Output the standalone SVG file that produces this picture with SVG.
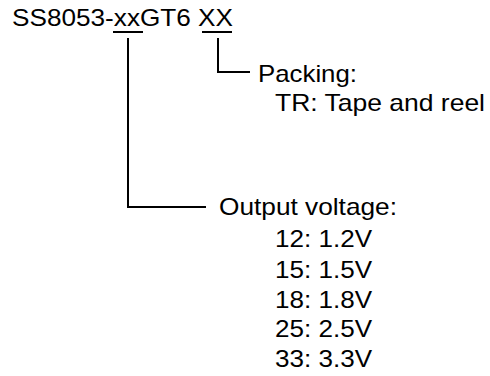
<svg xmlns="http://www.w3.org/2000/svg" width="490" height="376" viewBox="0 0 490 376">
<style>
text{font-family:"Liberation Sans",Arial,sans-serif;font-size:24px;fill:#000}
.ln{fill:none;stroke:#000;stroke-width:2}
</style>
<rect width="490" height="376" fill="#fff"/>
<g id="title"><text x="12" y="26" textLength="221" lengthAdjust="spacingAndGlyphs">SS8053-xxGT6 XX</text></g>
<g id="connectors">
<path class="ln" d="M113 32H143M202 32H232"/>
<path class="ln" d="M128 38V207H206"/>
<path class="ln" d="M218 38V72H250"/>
</g>
<g id="packing"><text x="258" y="82" textLength="99" lengthAdjust="spacingAndGlyphs">Packing:</text><text x="275" y="111" textLength="210" lengthAdjust="spacingAndGlyphs">TR: Tape and reel</text></g>
<g id="voltage"><text x="219" y="215" textLength="178" lengthAdjust="spacingAndGlyphs">Output voltage:</text>
<text x="275" y="247" textLength="97" lengthAdjust="spacingAndGlyphs">12: 1.2V</text>
<text x="275" y="278" textLength="97" lengthAdjust="spacingAndGlyphs">15: 1.5V</text>
<text x="275" y="308" textLength="97" lengthAdjust="spacingAndGlyphs">18: 1.8V</text>
<text x="275" y="337" textLength="97" lengthAdjust="spacingAndGlyphs">25: 2.5V</text>
<text x="275" y="367" textLength="97" lengthAdjust="spacingAndGlyphs">33: 3.3V</text></g>
</svg>
